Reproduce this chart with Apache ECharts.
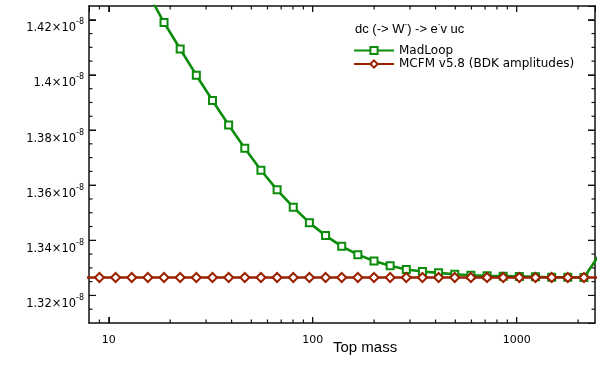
<!DOCTYPE html>
<html>
<head>
<meta charset="utf-8">
<script src="https://cdn.jsdelivr.net/npm/echarts@6/dist/echarts.min.js"></script>
<style>
html,body{margin:0;padding:0;background:#fff;}
#c{width:598px;height:368px;}
</style>
</head>
<body>
<div id="c"></div>
<script>
// Top mass values (x axis, log scale)
var topMass = [7.5, 9, 10.8, 12.96, 15.55, 18.66, 22.39, 26.87, 32.25, 38.7, 46.44, 55.73, 66.87, 80.25, 96.3, 115.6, 138.7, 166.4, 199.7, 239.6, 287.5, 345, 414, 496.8, 596.2, 715.4, 858.5, 1030, 1236, 1484, 1780, 2136, 2564];
// Values in units of 1e-8
var madLoop = [null, 1.4593, 1.4489, 1.4398, 1.4297, 1.4190, 1.4094, 1.3999, 1.3907, 1.3818, 1.3734, 1.3654, 1.3583, 1.3520, 1.3464, 1.3417, 1.3378, 1.3348, 1.3325, 1.3308, 1.3294, 1.3287, 1.3282, 1.3277, 1.3273, 1.3271, 1.3270, 1.3269, 1.3268, 1.3266, 1.3266, 1.3265, 1.3352];
var mcfm = [1.3265, 1.3265, 1.3265, 1.3265, 1.3265, 1.3265, 1.3265, 1.3265, 1.3265, 1.3265, 1.3265, 1.3265, 1.3265, 1.3265, 1.3265, 1.3265, 1.3265, 1.3265, 1.3265, 1.3265, 1.3265, 1.3265, 1.3265, 1.3265, 1.3265, 1.3265, 1.3265, 1.3265, 1.3265, 1.3265, 1.3265, 1.3265, 1.3265];
var seriesNames = ['MadLoop', 'MCFM v5.8 (BDK amplitudes)'];
// Tick values
var xMajorTicks = [10, 100, 1000];
var xMinorTicks = [9, 20, 30, 40, 50, 60, 70, 80, 90, 200, 300, 400, 500, 600, 700, 800, 900, 2000];
var yMajorTicks = [1.32, 1.34, 1.36, 1.38, 1.40, 1.42];
var yMinorTicks = [1.315, 1.325, 1.33, 1.335, 1.345, 1.35, 1.355, 1.365, 1.37, 1.375, 1.385, 1.39, 1.395, 1.405, 1.41, 1.415];
var xMin = 8, xMax = 2420;
var yMin = 1.31, yMax = 1.425;

function pairs(ys) {
  var out = [];
  for (var i = 0; i < topMass.length; i++) if (ys[i] != null) out.push([topMass[i], ys[i]]);
  return out;
}

var GREEN = '#0b8c0b';
var RED = '#9a2000';
var AX = '#111111';
var chart = echarts.init(document.getElementById('c'), null, {renderer: 'canvas'});

function xLabel(v) {
  var l = Math.log(v) / Math.LN10;
  if (Math.abs(l - Math.round(l)) < 1e-6) return String(Math.round(Math.pow(10, Math.round(l))));
  return '';
}
function yLabel(v) {
  var r = Math.round(v / 0.02);
  if (Math.abs(v - r * 0.02) > 1e-6) return '';
  var s = String(parseFloat(v.toFixed(2)));
  return '{n|' + s + '×10}{s|-8}';
}

var option = {
  animation: false,
  backgroundColor: '#fff',
  grid: {left: 89, right: 3, top: 6, bottom: 45},
  title: [
    {text: 'Top mass', left: 333, top: 340, padding: 0, textStyle: {fontFamily: 'Liberation Sans', fontSize: 15, fontWeight: 'normal', color: '#000'}},
    {text: '{n|dc (-> W}{s|-}{n|) -> e}{s|-}{n|v uc}', left: 355, top: 20, padding: 0,
     textStyle: {fontWeight: 'normal', rich: {
       n: {fontFamily: 'Liberation Sans', fontSize: 13, fontWeight: 'normal', color: '#000', padding: [3, 0, 0, 0], lineHeight: 15},
       s: {fontFamily: 'Liberation Sans', fontSize: 8, fontWeight: 'normal', color: '#000', verticalAlign: 'top', lineHeight: 8}
     }}}
  ],
  legend: {
    data: seriesNames, orient: 'vertical', left: 353, top: 44, padding: 0,
    itemWidth: 40, itemHeight: 9, itemGap: 0.5,
    textStyle: {fontFamily: 'DejaVu Sans', fontSize: 12, color: '#000', lineHeight: 13}
  },
  xAxis: [
    {type: 'log', logBase: 10, min: xMin, max: xMax,
     axisLine: {show: true, lineStyle: {color: AX, width: 1.5}},
     axisTick: {show: true, inside: true, length: 6, lineStyle: {color: AX, width: 1}},
     axisLabel: {formatter: xLabel, margin: 12, fontFamily: 'DejaVu Sans', fontSize: 11, color: '#000', showMinLabel: false, showMaxLabel: false},
     splitLine: {show: false}},
    {type: 'log', min: xMin, max: xMax, position: 'top',
     axisLine: {show: true, lineStyle: {color: AX, width: 1.5}},
     axisTick: {show: true, inside: true, length: 6, lineStyle: {color: AX, width: 1}},
     axisLabel: {show: false}, splitLine: {show: false}}
  ],
  yAxis: [
    {type: 'value', min: yMin, max: yMax,
     axisLine: {show: true, lineStyle: {color: AX, width: 1.5}},
     axisTick: {show: true, inside: true, length: 7, lineStyle: {color: AX, width: 1}},
     axisLabel: {formatter: yLabel, margin: 5, showMinLabel: false, showMaxLabel: false,
       rich: {
         n: {fontFamily: 'DejaVu Sans', fontSize: 11.5, color: '#000', padding: [9, 0, 0, 0], lineHeight: 13, verticalAlign: 'top'},
         s: {fontFamily: 'DejaVu Sans', fontSize: 8, color: '#000', padding: [5, 0, 0, 0], verticalAlign: 'top', lineHeight: 8}
       }},
     splitLine: {show: false}},
    {type: 'value', min: yMin, max: yMax, position: 'right',
     axisLine: {show: true, lineStyle: {color: AX, width: 1.5}},
     axisTick: {show: true, inside: true, length: 7, lineStyle: {color: AX, width: 1}},
     axisLabel: {show: false}, splitLine: {show: false}}
  ],
  series: [
    {name: seriesNames[1], type: 'line', data: pairs(mcfm),
     symbol: 'emptyDiamond', symbolSize: 9, clip: true,
     lineStyle: {color: RED, width: 2.6}, itemStyle: {color: RED, borderColor: RED, borderWidth: 2}, z: 3},
    {name: seriesNames[0], type: 'line', data: pairs(madLoop),
     symbol: 'emptyRect', symbolSize: 7, clip: true,
     lineStyle: {color: GREEN, width: 2.6}, itemStyle: {color: GREEN, borderColor: GREEN, borderWidth: 2}, z: 2}
  ]
};
chart.setOption(option);

// Tick marks placed through the chart's own scales (convertToPixel)
function tickGraphics() {
  var els = [];
  var W = 1.2;
  function px(x, y) { return chart.convertToPixel({gridIndex: 0}, [x, y]); }
  function xTicks(vals, len) {
    vals.forEach(function (v) {
      var b = px(v, yMin), t = px(v, yMax);
      els.push({type: 'rect', z: 1, silent: true, shape: {x: b[0] - W / 2, y: b[1] - len, width: W, height: len}, style: {fill: AX}});
      els.push({type: 'rect', z: 1, silent: true, shape: {x: t[0] - W / 2, y: t[1], width: W, height: len}, style: {fill: AX}});
    });
  }
  function yTicks(vals, len) {
    vals.forEach(function (v) {
      var l = px(xMin, v), r = px(xMax, v);
      els.push({type: 'rect', z: 1, silent: true, shape: {x: l[0], y: l[1] - W / 2, width: len, height: W}, style: {fill: AX}});
      els.push({type: 'rect', z: 1, silent: true, shape: {x: r[0] - len, y: r[1] - W / 2, width: len, height: W}, style: {fill: AX}});
    });
  }
  xTicks(xMajorTicks, 6);
  xTicks(xMinorTicks, 3.5);
  yTicks(yMajorTicks, 7);
  yTicks(yMinorTicks, 3.5);
  return els;
}
chart.setOption({graphic: tickGraphics()});
</script>
</body>
</html>
